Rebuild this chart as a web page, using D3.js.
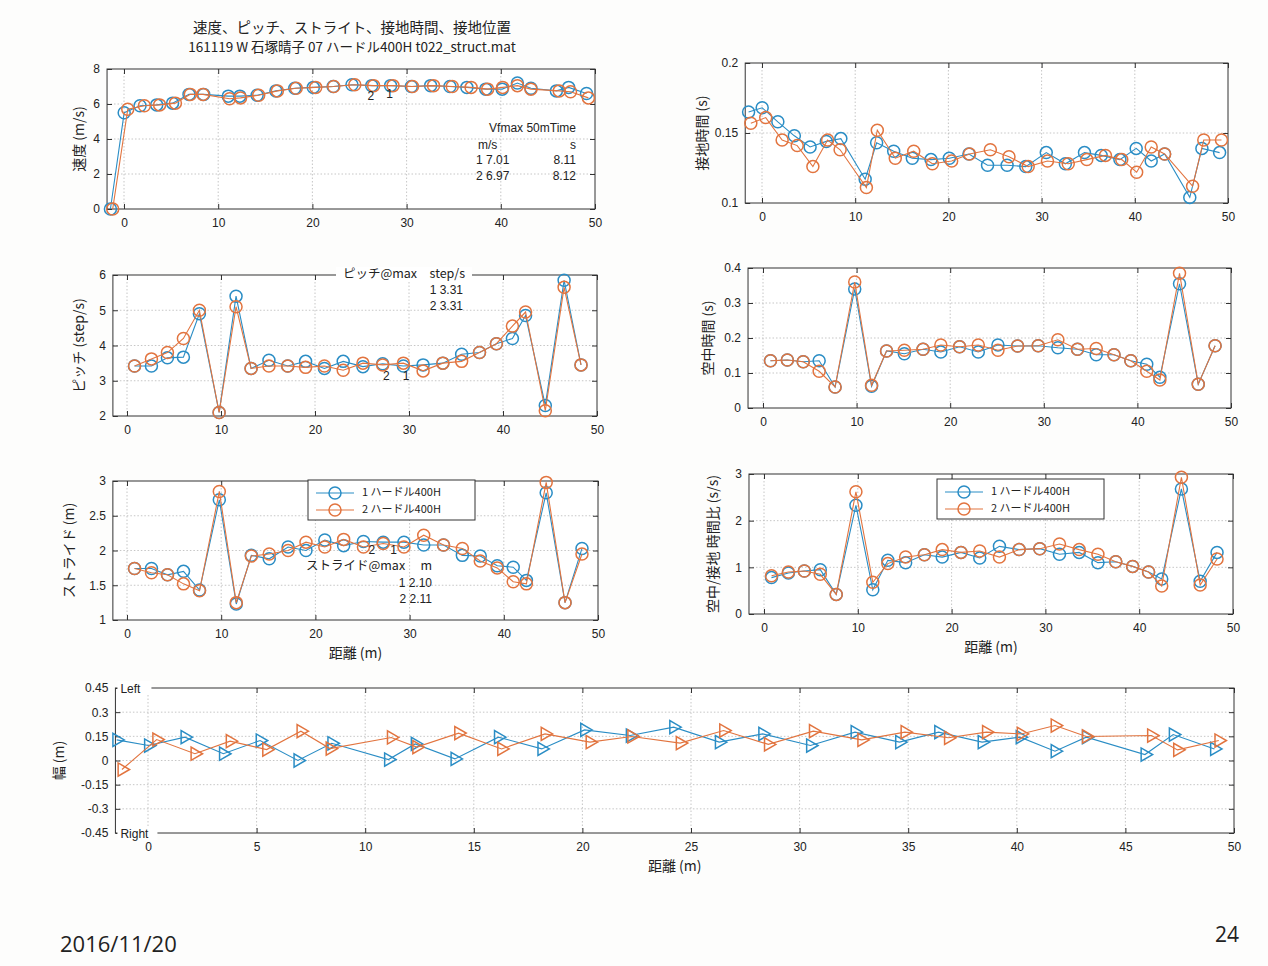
<!DOCTYPE html>
<html>
<head>
<meta charset="utf-8">
<script src="https://cdn.jsdelivr.net/npm/d3@7"></script>
<style>
body { margin: 0; background: #fff; }
text { font-family: "Liberation Sans", Arial, sans-serif; fill: #222; }
.jp { font-family: "Noto Sans CJK JP", sans-serif; }
</style>
</head>
<body>
<script>
// ---- data ----
// foot contact positions (m) for trial 1 / trial 2
const contactX1 = [-1.44, 0.02, 1.7, 3.47, 5.16, 6.9, 8.46, 11.07, 12.3, 14.13, 16.13, 18.13, 20.1, 22.2, 24.2, 26.3, 28.3, 30.5, 32.55, 34.6, 36.4, 38.4, 40.15, 41.76, 43.2, 45.9, 47.2, 49.1];
const contactX2 = [-1.2, 0.4, 2.16, 3.78, 5.46, 7.04, 8.38, 11.2, 12.37, 14.3, 16.28, 18.28, 20.35, 22.27, 24.5, 26.5, 28.56, 30.63, 32.86, 34.85, 36.85, 38.6, 40.2, 41.76, 43.2, 46.2, 47.4, 49.3];
// mid-step positions (m)
const stepX = [0.8, 2.6, 4.3, 6.0, 7.7, 9.8, 11.6, 13.2, 15.1, 17.1, 19.0, 21.0, 23.0, 25.1, 27.2, 29.4, 31.5, 33.6, 35.6, 37.5, 39.3, 41.0, 42.4, 44.5, 46.5, 48.3];

const speed1 = [0, 5.5, 5.9, 5.95, 6.05, 6.55, 6.55, 6.45, 6.45, 6.5, 6.75, 6.9, 6.95, 7.0, 7.1, 7.05, 7.05, 7.0, 7.05, 7.0, 6.95, 6.85, 6.85, 7.2, 6.9, 6.75, 6.95, 6.6];
const speed2 = [0, 5.7, 5.9, 5.95, 6.05, 6.55, 6.55, 6.3, 6.35, 6.5, 6.75, 6.9, 6.95, 7.0, 7.1, 7.05, 7.05, 7.0, 7.05, 7.0, 6.95, 6.85, 6.95, 7.05, 6.85, 6.75, 6.7, 6.35];

const contact1 = [0.165, 0.168, 0.158, 0.148, 0.14, 0.144, 0.146, 0.117, 0.143, 0.137, 0.132, 0.131, 0.132, 0.135, 0.127, 0.127, 0.126, 0.136, 0.128, 0.136, 0.134, 0.131, 0.139, 0.13, 0.135, 0.104, 0.139, 0.136];
const contact2 = [0.157, 0.161, 0.145, 0.141, 0.126, 0.145, 0.138, 0.111, 0.152, 0.132, 0.137, 0.128, 0.13, 0.135, 0.138, 0.133, 0.126, 0.13, 0.128, 0.131, 0.134, 0.131, 0.122, 0.14, 0.135, 0.112, 0.145, 0.145];

const pitch1 = [3.42, 3.42, 3.65, 3.67, 4.9, 2.1, 5.4, 3.35, 3.58, 3.42, 3.55, 3.35, 3.55, 3.4, 3.48, 3.42, 3.45, 3.5, 3.75, 3.8, 4.05, 4.2, 4.85, 2.3, 5.85, 3.45];
const pitch2 = [3.42, 3.62, 3.8, 4.2, 5.0, 2.1, 5.1, 3.35, 3.42, 3.42, 3.38, 3.42, 3.3, 3.5, 3.45, 3.5, 3.28, 3.5, 3.55, 3.8, 4.05, 4.55, 4.95, 2.15, 5.65, 3.45];

const air1 = [0.135, 0.137, 0.132, 0.135, 0.06, 0.34, 0.062, 0.163, 0.155, 0.168, 0.16, 0.175, 0.16, 0.18, 0.177, 0.178, 0.172, 0.168, 0.152, 0.152, 0.135, 0.125, 0.088, 0.355, 0.068, 0.178];
const air2 = [0.135, 0.137, 0.132, 0.105, 0.06, 0.36, 0.065, 0.163, 0.165, 0.168, 0.18, 0.175, 0.18, 0.165, 0.177, 0.178, 0.195, 0.168, 0.17, 0.152, 0.135, 0.105, 0.08, 0.385, 0.068, 0.178];

const stride1 = [1.74, 1.74, 1.65, 1.70, 1.43, 2.73, 1.23, 1.93, 1.88, 2.05, 2.0, 2.15, 2.07, 2.13, 2.12, 2.12, 2.08, 2.08, 1.93, 1.92, 1.78, 1.76, 1.57, 2.83, 1.25, 2.03];
const stride2 = [1.74, 1.68, 1.65, 1.52, 1.42, 2.85, 1.25, 1.92, 1.95, 2.0, 2.12, 2.05, 2.16, 2.05, 2.1, 2.05, 2.22, 2.08, 2.03, 1.85, 1.75, 1.55, 1.52, 2.98, 1.25, 1.95];

const ratio1 = [0.78, 0.88, 0.92, 0.95, 0.42, 2.33, 0.52, 1.15, 1.1, 1.27, 1.22, 1.32, 1.2, 1.45, 1.38, 1.4, 1.28, 1.32, 1.1, 1.12, 1.02, 0.9, 0.75, 2.68, 0.7, 1.32];
const ratio2 = [0.82, 0.9, 0.92, 0.85, 0.42, 2.62, 0.68, 1.08, 1.22, 1.27, 1.38, 1.32, 1.35, 1.22, 1.38, 1.4, 1.5, 1.38, 1.28, 1.12, 1.02, 0.9, 0.6, 2.93, 0.62, 1.18];

const width1 = [0.128, 0.093, 0.145, 0.042, 0.124, 0.0, 0.107, 0.006, 0.103, 0.01, 0.145, 0.072, 0.19, 0.155, 0.207, 0.114, 0.165, 0.093, 0.176, 0.114, 0.176, 0.114, 0.145, 0.058, 0.145, 0.037, 0.161, 0.072];
const width2 = [-0.056, 0.13, 0.042, 0.12, 0.068, 0.182, 0.074, 0.143, 0.083, 0.17, 0.072, 0.165, 0.114, 0.149, 0.108, 0.186, 0.1, 0.182, 0.128, 0.176, 0.141, 0.176, 0.165, 0.217, 0.149, 0.155, 0.066, 0.124];

const seriesNames = ["1 ハードル400H", "2 ハードル400H"];
const xTicks10 = [0, 10, 20, 30, 40, 50];
const xTicks5 = [0, 5, 10, 15, 20, 25, 30, 35, 40, 45, 50];
const speedTicks = [0, 2, 4, 6, 8];
const contactTicks = [0.1, 0.15, 0.2];
const pitchTicks = [2, 3, 4, 5, 6];
const airTicks = [0, 0.1, 0.2, 0.3, 0.4];
const strideTicks = [1, 1.5, 2, 2.5, 3];
const ratioTicks = [0, 1, 2, 3];
const widthTicks = [-0.45, -0.3, -0.15, 0, 0.15, 0.3, 0.45];

// "2 1" markers at the max-value step
const speedMaxMarks = [{t: "2", x: 26.2, y: 6.4}, {t: "1", x: 28.2, y: 6.5}];
const pitchMaxMarks = [{t: "2", x: 27.6, y: 3.1}, {t: "1", x: 29.7, y: 3.1}];
const strideMaxMarks = [{t: "2", x: 26.0, y: 2.0}, {t: "1", x: 28.3, y: 2.0}];

// ---- drawing ----
const W = 1268, H = 966;
const BLUE = "#2a8dc5", ORANGE = "#e2743f";
const svg = d3.select("body").append("svg").attr("width", W).attr("height", H);
svg.append("rect").attr("width", W).attr("height", H).attr("fill", "#fdfdfc");

const fmt = d => String(+d.toFixed(2));

function panel(cfg) {
  const x = d3.scaleLinear().domain([0, 50]).range([cfg.x0, cfg.x50]);
  const left = x(cfg.xmin), right = x(50);
  x.domain([cfg.xmin, 50]).range([left, right]);
  const y = d3.scaleLinear().domain([cfg.yTicks[0], cfg.yTicks[cfg.yTicks.length - 1]]).range([cfg.yBot, cfg.yTop]);
  const g = svg.append("g");
  g.append("rect").attr("x", left).attr("y", cfg.yTop).attr("width", right - left).attr("height", cfg.yBot - cfg.yTop).attr("fill", "#fff");

  // grid
  g.append("g").selectAll("line").data(cfg.xTicks.filter(d => d > cfg.xmin && d < 50)).join("line")
    .attr("x1", d => x(d)).attr("x2", d => x(d)).attr("y1", cfg.yTop).attr("y2", cfg.yBot)
    .attr("stroke", "#b8b8b8").attr("stroke-width", 0.8).attr("stroke-dasharray", "1.5,2");
  g.append("g").selectAll("line").data(cfg.yTicks.slice(1, -1)).join("line")
    .attr("x1", left).attr("x2", right).attr("y1", d => y(d)).attr("y2", d => y(d))
    .attr("stroke", "#b8b8b8").attr("stroke-width", 0.8).attr("stroke-dasharray", "1.5,2");

  // axes with inward ticks on all four sides
  const ax = (gen, tr, labels) => {
    const a = g.append("g").attr("transform", tr).call(gen);
    a.select(".domain").remove();
    a.selectAll(".tick line").attr("stroke", "#333");
    a.selectAll("text").attr("font-size", 12).attr("fill", "#222");
    if (!labels) a.selectAll("text").remove();
    return a;
  };
  ax(d3.axisBottom(x).tickValues(cfg.xTicks).tickSizeInner(-5).tickSizeOuter(0).tickPadding(9).tickFormat(fmt), `translate(0,${cfg.yBot})`, true);
  ax(d3.axisTop(x).tickValues(cfg.xTicks).tickSizeInner(-5).tickSizeOuter(0), `translate(0,${cfg.yTop})`, false);
  ax(d3.axisLeft(y).tickValues(cfg.yTicks).tickSizeInner(-5).tickSizeOuter(0).tickPadding(7).tickFormat(fmt), `translate(${left},0)`, true);
  ax(d3.axisRight(y).tickValues(cfg.yTicks).tickSizeInner(-5).tickSizeOuter(0), `translate(${right},0)`, false);

  g.append("rect").attr("x", left).attr("y", cfg.yTop).attr("width", right - left).attr("height", cfg.yBot - cfg.yTop)
    .attr("fill", "none").attr("stroke", "#333").attr("stroke-width", 1);

  // y label
  g.append("text").attr("class", "jp").attr("font-size", 14)
    .attr("transform", `translate(${cfg.ylx},${(cfg.yTop + cfg.yBot) / 2}) rotate(-90)`)
    .attr("text-anchor", "middle").attr("dominant-baseline", "middle").text(cfg.ylabel);
  if (cfg.xlabel) {
    g.append("text").attr("class", "jp").attr("font-size", 14).attr("x", (left + right) / 2).attr("y", cfg.yBot + 38)
      .attr("text-anchor", "middle").text(cfg.xlabel);
  }
  return { g, x, y, left, right };
}

function series(p, xs, ys, color, marker) {
  const pts = xs.map((v, i) => [v, ys[i]]);
  p.g.append("path").datum(pts).attr("fill", "none").attr("stroke", color).attr("stroke-width", 1.1)
    .attr("d", d3.line().x(d => p.x(d[0])).y(d => p.y(d[1])));
  if (marker === "tri") {
    const sym = d3.symbol(d3.symbolTriangle, 75);
    p.g.append("g").selectAll("path").data(pts).join("path")
      .attr("d", sym).attr("transform", d => `translate(${p.x(d[0])},${p.y(d[1])}) rotate(90)`)
      .attr("fill", "none").attr("stroke", color).attr("stroke-width", 1.5);
  } else {
    p.g.append("g").selectAll("circle").data(pts).join("circle")
      .attr("cx", d => p.x(d[0])).attr("cy", d => p.y(d[1])).attr("r", 6)
      .attr("fill", "none").attr("stroke", color).attr("stroke-width", 1.5);
  }
}

function maxMarks(p, marks) {
  p.g.append("g").selectAll("text").data(marks).join("text")
    .attr("x", d => p.x(d.x)).attr("y", d => p.y(d.y)).attr("font-size", 12)
    .attr("text-anchor", "middle").attr("dominant-baseline", "middle").text(d => d.t);
}

function legend(p, lx, ly) {
  const g = p.g.append("g").attr("transform", `translate(${lx},${ly})`);
  g.append("rect").attr("width", 167).attr("height", 40).attr("fill", "#fff").attr("stroke", "#333");
  [BLUE, ORANGE].forEach((c, i) => {
    const yy = 13 + i * 17;
    g.append("line").attr("x1", 8).attr("x2", 46).attr("y1", yy).attr("y2", yy).attr("stroke", c).attr("stroke-width", 1.1);
    g.append("circle").attr("cx", 27).attr("cy", yy).attr("r", 6).attr("fill", "none").attr("stroke", c).attr("stroke-width", 1.5);
    g.append("text").attr("class", "jp").attr("x", 54).attr("y", yy).attr("dominant-baseline", "middle")
      .attr("font-size", 11).text(seriesNames[i]);
  });
}

// title
svg.append("text").attr("class", "jp").attr("x", 352).attr("y", 33).attr("text-anchor", "middle").attr("font-size", 14.5)
  .text("速度、ピッチ、ストライト、接地時間、接地位置");
svg.append("text").attr("class", "jp").attr("x", 352).attr("y", 52).attr("text-anchor", "middle").attr("font-size", 13.5)
  .text("161119 W 石塚晴子 07 ハードル400H t022_struct.mat");

// speed
const pSpeed = panel({ x0: 124, x50: 595, xmin: -1.8, yTop: 69, yBot: 209, xTicks: xTicks10, yTicks: speedTicks, ylabel: "速度 (m/s)", ylx: 80 });
series(pSpeed, contactX1, speed1, BLUE);
series(pSpeed, contactX2, speed2, ORANGE);
maxMarks(pSpeed, speedMaxMarks);
{
  const g = pSpeed.g.append("g").attr("font-size", 12);
  g.append("text").attr("x", 576).attr("y", 132).attr("text-anchor", "end").text("Vfmax 50mTime");
  g.append("text").attr("x", 478).attr("y", 149).text("m/s");
  g.append("text").attr("x", 576).attr("y", 149).attr("text-anchor", "end").text("s");
  g.append("text").attr("x", 476).attr("y", 164).text("1  7.01");
  g.append("text").attr("x", 576).attr("y", 164).attr("text-anchor", "end").text("8.11");
  g.append("text").attr("x", 476).attr("y", 180).text("2  6.97");
  g.append("text").attr("x", 576).attr("y", 180).attr("text-anchor", "end").text("8.12");
}

// contact time
const pContact = panel({ x0: 762, x50: 1228, xmin: -1.8, yTop: 63, yBot: 203, xTicks: xTicks10, yTicks: contactTicks, ylabel: "接地時間 (s)", ylx: 703 });
series(pContact, contactX1, contact1, BLUE);
series(pContact, contactX2, contact2, ORANGE);

// pitch
const pPitch = panel({ x0: 127, x50: 597, xmin: -1.5, yTop: 275, yBot: 416, xTicks: xTicks10, yTicks: pitchTicks, ylabel: "ピッチ (step/s)", ylx: 80 });
series(pPitch, stepX, pitch1, BLUE);
series(pPitch, stepX, pitch2, ORANGE);
maxMarks(pPitch, pitchMaxMarks);
{
  const g = pPitch.g.append("g").attr("font-size", 12);
  g.append("rect").attr("x", 336).attr("y", 267).attr("width", 136).attr("height", 14).attr("fill", "#fff");
  g.append("text").attr("class", "jp").attr("x", 404).attr("y", 278).attr("text-anchor", "middle").attr("font-size", 12.5).text("ピッチ@max　step/s");
  g.append("text").attr("x", 463).attr("y", 294).attr("text-anchor", "end").text("1 3.31");
  g.append("text").attr("x", 463).attr("y", 310).attr("text-anchor", "end").text("2 3.31");
}

// air time
const pAir = panel({ x0: 763, x50: 1231, xmin: -1.6, yTop: 268, yBot: 408, xTicks: xTicks10, yTicks: airTicks, ylabel: "空中時間 (s)", ylx: 709 });
series(pAir, stepX, air1, BLUE);
series(pAir, stepX, air2, ORANGE);

// stride
const pStride = panel({ x0: 127, x50: 598, xmin: -1.5, yTop: 481, yBot: 620, xTicks: xTicks10, yTicks: strideTicks, ylabel: "ストライド (m)", ylx: 70, xlabel: "距離 (m)" });
series(pStride, stepX, stride1, BLUE);
series(pStride, stepX, stride2, ORANGE);
maxMarks(pStride, strideMaxMarks);
legend(pStride, 308, 480);
{
  const g = pStride.g.append("g").attr("font-size", 12);
  g.append("text").attr("class", "jp").attr("x", 432).attr("y", 570).attr("text-anchor", "end").attr("font-size", 12.5).text("ストライド@max　  m");
  g.append("text").attr("x", 432).attr("y", 587).attr("text-anchor", "end").text("1 2.10");
  g.append("text").attr("x", 432).attr("y", 603).attr("text-anchor", "end").text("2 2.11");
}

// air / contact ratio
const pRatio = panel({ x0: 764, x50: 1233, xmin: -1.6, yTop: 474, yBot: 614, xTicks: xTicks10, yTicks: ratioTicks, ylabel: "空中/接地 時間比 (s/s)", ylx: 714, xlabel: "距離 (m)" });
series(pRatio, stepX, ratio1, BLUE);
series(pRatio, stepX, ratio2, ORANGE);
legend(pRatio, 937, 479);

// width (left / right)
const pWidth = panel({ x0: 148, x50: 1234, xmin: -1.5, yTop: 688, yBot: 833, xTicks: xTicks5, yTicks: widthTicks, ylabel: "幅 (m)", ylx: 60, xlabel: "距離 (m)" });
series(pWidth, contactX1, width1, BLUE, "tri");
series(pWidth, contactX2, width2, ORANGE, "tri");
{
  const g = pWidth.g.append("g").attr("font-size", 12);
  g.append("rect").attr("x", pWidth.left + 2).attr("y", 681).attr("width", 34).attr("height", 14).attr("fill", "#fff");
  g.append("text").attr("x", pWidth.left + 5).attr("y", 693).text("Left");
  g.append("rect").attr("x", pWidth.left + 2).attr("y", 826).attr("width", 40).attr("height", 14).attr("fill", "#fff");
  g.append("text").attr("x", pWidth.left + 5).attr("y", 838).text("Right");
}

// slide footer
svg.append("text").attr("x", 60).attr("y", 952).attr("font-size", 22).style("font-family", "'Open Sans', sans-serif").text("2016/11/20");
svg.append("text").attr("x", 1239).attr("y", 942).attr("text-anchor", "end").attr("font-size", 21).style("font-family", "'Open Sans', sans-serif").text("24");
</script>
</body>
</html>
